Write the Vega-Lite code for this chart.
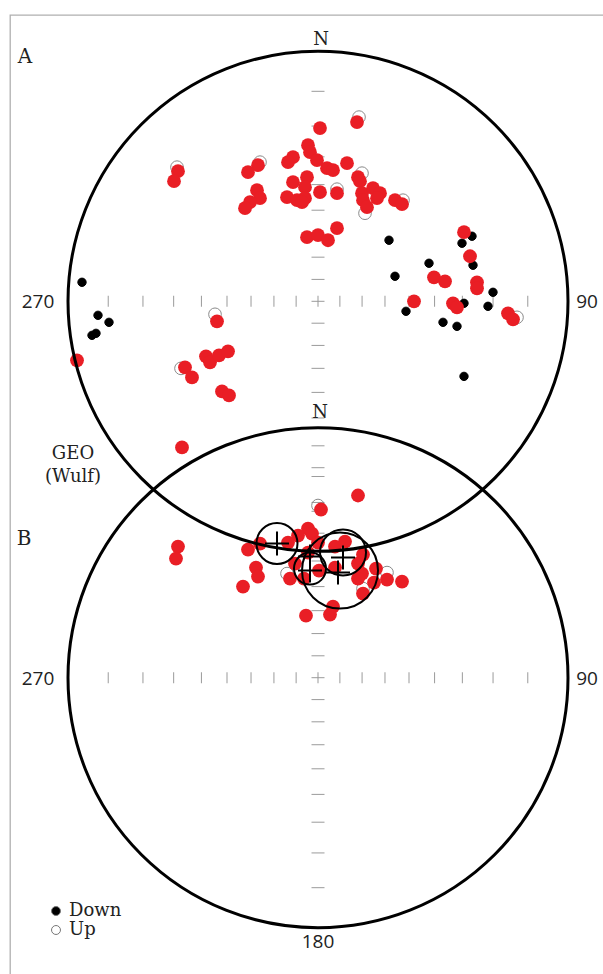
{
  "$schema": "https://vega.github.io/schema/vega-lite/v6.json",
  "width": 603,
  "height": 974,
  "autosize": {"type": "fit", "contains": "padding"},
  "padding": {"left": 10, "top": 15, "right": -2, "bottom": -2},
  "background": "white",
  "config": {"view": {"stroke": "#b0b0b0", "strokeWidth": 1.3}},
  "datasets": {
    "nets": [{"net": "A", "x": 0, "y": 0, "r": 100}, {"net": "B", "x": 0, "y": -150.4, "r": 100}],
    "ticks": [
      {"x": -83.91, "y": 0, "o": "v"}, {"x": -70.02, "y": 0, "o": "v"}, {"x": -57.74, "y": 0, "o": "v"}, {"x": -46.63, "y": 0, "o": "v"}, {"x": -36.4, "y": 0, "o": "v"}, {"x": -26.79, "y": 0, "o": "v"}, {"x": -17.63, "y": 0, "o": "v"}, {"x": -8.75, "y": 0, "o": "v"}, {"x": 0, "y": 0, "o": "v"}, {"x": 8.75, "y": 0, "o": "v"}, {"x": 17.63, "y": 0, "o": "v"}, {"x": 26.79, "y": 0, "o": "v"}, {"x": 36.4, "y": 0, "o": "v"}, {"x": 46.63, "y": 0, "o": "v"}, {"x": 57.74, "y": 0, "o": "v"}, {"x": 70.02, "y": 0, "o": "v"}, {"x": 83.91, "y": 0, "o": "v"},
      {"x": 0, "y": -83.91, "o": "h"}, {"x": 0, "y": -70.02, "o": "h"}, {"x": 0, "y": -57.74, "o": "h"}, {"x": 0, "y": -46.63, "o": "h"}, {"x": 0, "y": -36.4, "o": "h"}, {"x": 0, "y": -26.79, "o": "h"}, {"x": 0, "y": -17.63, "o": "h"}, {"x": 0, "y": -8.75, "o": "h"}, {"x": 0, "y": 0, "o": "h"}, {"x": 0, "y": 8.75, "o": "h"}, {"x": 0, "y": 17.63, "o": "h"}, {"x": 0, "y": 26.79, "o": "h"}, {"x": 0, "y": 36.4, "o": "h"}, {"x": 0, "y": 46.63, "o": "h"}, {"x": 0, "y": 57.74, "o": "h"}, {"x": 0, "y": 70.02, "o": "h"}, {"x": 0, "y": 83.91, "o": "h"},
      {"x": -83.91, "y": -150.4, "o": "v"}, {"x": -70.02, "y": -150.4, "o": "v"}, {"x": -57.74, "y": -150.4, "o": "v"}, {"x": -46.63, "y": -150.4, "o": "v"}, {"x": -36.4, "y": -150.4, "o": "v"}, {"x": -26.79, "y": -150.4, "o": "v"}, {"x": -17.63, "y": -150.4, "o": "v"}, {"x": -8.75, "y": -150.4, "o": "v"}, {"x": 0, "y": -150.4, "o": "v"}, {"x": 8.75, "y": -150.4, "o": "v"}, {"x": 17.63, "y": -150.4, "o": "v"}, {"x": 26.79, "y": -150.4, "o": "v"}, {"x": 36.4, "y": -150.4, "o": "v"}, {"x": 46.63, "y": -150.4, "o": "v"}, {"x": 57.74, "y": -150.4, "o": "v"}, {"x": 70.02, "y": -150.4, "o": "v"}, {"x": 83.91, "y": -150.4, "o": "v"},
      {"x": 0, "y": -234.31, "o": "h"}, {"x": 0, "y": -220.42, "o": "h"}, {"x": 0, "y": -208.14, "o": "h"}, {"x": 0, "y": -197.03, "o": "h"}, {"x": 0, "y": -186.8, "o": "h"}, {"x": 0, "y": -177.19, "o": "h"}, {"x": 0, "y": -168.03, "o": "h"}, {"x": 0, "y": -159.15, "o": "h"}, {"x": 0, "y": -150.4, "o": "h"}, {"x": 0, "y": -141.65, "o": "h"}, {"x": 0, "y": -132.77, "o": "h"}, {"x": 0, "y": -123.61, "o": "h"}, {"x": 0, "y": -114.0, "o": "h"}, {"x": 0, "y": -103.77, "o": "h"}, {"x": 0, "y": -92.66, "o": "h"}, {"x": 0, "y": -80.38, "o": "h"}, {"x": 0, "y": -66.49, "o": "h"}
    ],
    "down": [
      {"x": 28.4, "y": 24.4}, {"x": 61.6, "y": 26.0}, {"x": 57.6, "y": 23.2}, {"x": 62.0, "y": 14.4}, {"x": 44.4, "y": 15.2}, {"x": 30.8, "y": 10.0}, {"x": 70.0, "y": 3.6}, {"x": 35.2, "y": -4.0}, {"x": 58.4, "y": -0.8}, {"x": 68.0, "y": -2.0}, {"x": 50.0, "y": -8.4}, {"x": 55.6, "y": -10.0}, {"x": 58.4, "y": -30.0},
      {"x": -94.4, "y": 7.6}, {"x": -88.0, "y": -5.6}, {"x": -83.6, "y": -8.4}, {"x": -90.4, "y": -13.6}, {"x": -88.8, "y": -12.8}
    ],
    "up": [
      {"x": 16.4, "y": 73.6}, {"x": -23.2, "y": 55.6}, {"x": -56.4, "y": 53.6}, {"x": 17.6, "y": 51.2}, {"x": 7.6, "y": 44.8}, {"x": 18.8, "y": 35.2}, {"x": 34.0, "y": 40.4}, {"x": 79.6, "y": -6.4}, {"x": -41.2, "y": -5.2}, {"x": -54.8, "y": -26.8},
      {"x": 0, "y": -81.6}, {"x": -12.4, "y": -108.8}, {"x": 27.6, "y": -108.4}, {"x": 18.0, "y": -114.8}
    ],
    "red": [
      {"x": 15.6, "y": 71.6}, {"x": 0.8, "y": 69.2}, {"x": -4.0, "y": 62.4}, {"x": -3.2, "y": 59.6}, {"x": -0.4, "y": 56.4}, {"x": -10.0, "y": 57.6}, {"x": -12.0, "y": 55.6}, {"x": -24.0, "y": 54.4}, {"x": -28.0, "y": 51.6}, {"x": -56.0, "y": 52.0}, {"x": -57.6, "y": 48.0}, {"x": 3.6, "y": 53.2}, {"x": 6.0, "y": 52.4}, {"x": 11.6, "y": 55.2}, {"x": 16.0, "y": 49.6}, {"x": 16.8, "y": 48.0}, {"x": -24.4, "y": 44.4}, {"x": -23.2, "y": 41.2}, {"x": -27.2, "y": 39.6}, {"x": -29.2, "y": 37.2}, {"x": -10.0, "y": 47.6}, {"x": -4.4, "y": 49.6}, {"x": -5.2, "y": 45.6}, {"x": -12.4, "y": 41.6}, {"x": -8.4, "y": 40.4}, {"x": -5.2, "y": 41.2}, {"x": -6.4, "y": 39.6}, {"x": 0.8, "y": 43.6}, {"x": 7.6, "y": 43.2}, {"x": 17.6, "y": 43.2}, {"x": 18.0, "y": 40.4}, {"x": 22.0, "y": 45.2}, {"x": 24.8, "y": 43.2}, {"x": 19.6, "y": 37.6}, {"x": 23.6, "y": 41.2}, {"x": 30.8, "y": 40.4}, {"x": 33.6, "y": 38.8}, {"x": 7.6, "y": 29.2}, {"x": -4.4, "y": 25.6}, {"x": 0.0, "y": 26.4}, {"x": 4.0, "y": 24.4},
      {"x": 58.4, "y": 27.6}, {"x": 60.8, "y": 18.0}, {"x": 46.4, "y": 9.6}, {"x": 50.8, "y": 8.0}, {"x": 63.6, "y": 7.6}, {"x": 63.6, "y": 5.2}, {"x": 38.4, "y": 0.0}, {"x": 54.0, "y": -0.8}, {"x": 55.6, "y": -2.4}, {"x": 76.0, "y": -4.8}, {"x": 78.0, "y": -7.2},
      {"x": -96.4, "y": -23.6}, {"x": -40.4, "y": -8.0}, {"x": -44.8, "y": -22.0}, {"x": -43.2, "y": -24.4}, {"x": -39.6, "y": -21.6}, {"x": -36.0, "y": -20.0}, {"x": -53.2, "y": -26.4}, {"x": -50.4, "y": -30.4}, {"x": -38.4, "y": -36.0}, {"x": -35.6, "y": -37.6}, {"x": -54.4, "y": -58.4},
      {"x": 16.0, "y": -77.6}, {"x": 1.2, "y": -83.2}, {"x": -4.0, "y": -90.8}, {"x": -8.0, "y": -93.6}, {"x": -2.4, "y": -92.8}, {"x": 0.0, "y": -96.4}, {"x": -12.0, "y": -96.4}, {"x": -23.2, "y": -96.8}, {"x": -28.0, "y": -99.2}, {"x": -4.0, "y": -100.4}, {"x": -9.2, "y": -104.8}, {"x": 6.8, "y": -98.0}, {"x": 10.8, "y": -96.0}, {"x": 18.0, "y": -101.2}, {"x": 16.0, "y": -104.8}, {"x": 23.2, "y": -106.8}, {"x": -24.8, "y": -106.4}, {"x": -24.0, "y": -110.0}, {"x": -30.0, "y": -114.0}, {"x": -11.2, "y": -110.8}, {"x": -5.6, "y": -110.8}, {"x": 0.4, "y": -107.6}, {"x": 6.8, "y": -106.4}, {"x": 17.6, "y": -108.8}, {"x": 16.0, "y": -110.8}, {"x": 22.4, "y": -112.4}, {"x": 27.6, "y": -111.2}, {"x": 33.6, "y": -112.0}, {"x": 18.0, "y": -116.8}, {"x": 6.0, "y": -122.0}, {"x": 4.8, "y": -125.2}, {"x": -4.8, "y": -125.6}, {"x": -56.0, "y": -98.0}, {"x": -56.8, "y": -102.8}
    ],
    "a95": [
      {"x": -16.4, "y": -96.8, "r": 8.2}, {"x": -3.2, "y": -106.8, "r": 6.4}, {"x": 10.0, "y": -100.4, "r": 9.2}, {"x": 8.8, "y": -107.6, "r": 15.2}
    ],
    "means": [
      {"x": -16.4, "y": -96.8}, {"x": -3.2, "y": -102.0}, {"x": -3.2, "y": -107.6}, {"x": 10.0, "y": -102.4}, {"x": 8.0, "y": -108.4}
    ],
    "degrees": [
      {"x": -112, "y": -0.4, "t": "270"}, {"x": 107.6, "y": -0.4, "t": "90"}, {"x": -112, "y": -150.8, "t": "270"}, {"x": 107.6, "y": -150.8, "t": "90"}, {"x": 0, "y": -256, "t": "180"}
    ],
    "north": [
      {"x": 1.2, "y": 104.4, "t": "N"}, {"x": 0.8, "y": -44.8, "t": "N"}
    ],
    "panels": [
      {"x": -117.2, "y": 97.6, "t": "A"}, {"x": -117.6, "y": -94.8, "t": "B"}
    ],
    "caption": [
      {"x": -98, "y": -61.2, "t": "GEO"}, {"x": -98, "y": -70.4, "t": "(Wulf)"}
    ]
  },
  "encoding": {
    "x": {"field": "x", "type": "quantitative", "axis": null, "scale": {"domain": [-123.2, 114.8], "nice": false, "zero": false}},
    "y": {"field": "y", "type": "quantitative", "axis": null, "scale": {"domain": [-269.6, 114.4], "nice": false, "zero": false}}
  },
  "layer": [
    {
      "data": {"name": "ticks"},
      "transform": [{"filter": "datum.o == 'v'"}],
      "mark": {"type": "tick", "orient": "vertical", "size": 11, "thickness": 1, "color": "#9a9a9a", "opacity": 1}
    },
    {
      "data": {"name": "ticks"},
      "transform": [{"filter": "datum.o == 'h'"}],
      "mark": {"type": "tick", "orient": "horizontal", "size": 13, "thickness": 1, "color": "#9a9a9a", "opacity": 1}
    },
    {
      "data": {"name": "down"},
      "mark": {"type": "point", "shape": "circle", "filled": true, "size": 70, "stroke": "#000000", "strokeWidth": 1, "opacity": 1},
      "encoding": {
        "fill": {"datum": "Down", "type": "nominal", "scale": {"domain": ["Down", "Up"], "range": ["#000000", "rgba(255,255,255,0)"]},
          "legend": {"orient": "none", "legendX": 37, "legendY": 887, "title": null, "labelFont": "DejaVu Serif", "labelFontSize": 18, "labelColor": "#222222", "symbolSize": 80, "symbolStrokeWidth": 1, "symbolStrokeColor": "#777777", "symbolType": "circle", "rowPadding": 1, "labelOffset": 4}}
      }
    },
    {
      "data": {"name": "up"},
      "mark": {"type": "point", "shape": "circle", "filled": false, "size": 160, "stroke": "#8a8a8a", "strokeWidth": 1, "opacity": 1},
      "encoding": {
        "fill": {"datum": "Up", "type": "nominal"}
      }
    },
    {
      "data": {"name": "red"},
      "mark": {"type": "point", "shape": "circle", "filled": true, "size": 190, "color": "#e91e25", "opacity": 1}
    },
    {
      "data": {"name": "nets"},
      "mark": {"type": "point", "shape": "circle", "filled": false, "stroke": "#000000", "strokeWidth": 3, "opacity": 1},
      "encoding": {
        "size": {"field": "r", "type": "quantitative", "scale": {"type": "pow", "exponent": 2, "domain": [0, 100], "range": [0, 250000]}, "legend": null}
      }
    },
    {
      "data": {"name": "a95"},
      "mark": {"type": "point", "shape": "circle", "filled": false, "stroke": "#000000", "strokeWidth": 2, "opacity": 1},
      "encoding": {
        "size": {"field": "r", "type": "quantitative", "legend": null}
      }
    },
    {
      "data": {"name": "means"},
      "mark": {"type": "point", "shape": "M-1,0H1M0,-1V1", "filled": false, "size": 576, "stroke": "#000000", "strokeWidth": 2, "opacity": 1}
    },
    {
      "data": {"name": "degrees"},
      "mark": {"type": "text", "font": "Open Sans", "fontSize": 19, "color": "#222222", "align": "center", "baseline": "middle"},
      "encoding": {"text": {"field": "t"}}
    },
    {
      "data": {"name": "north"},
      "mark": {"type": "text", "font": "DejaVu Serif", "fontSize": 18, "color": "#222222", "align": "center", "baseline": "middle"},
      "encoding": {"text": {"field": "t"}}
    },
    {
      "data": {"name": "panels"},
      "mark": {"type": "text", "font": "DejaVu Serif", "fontSize": 20, "color": "#222222", "align": "center", "baseline": "middle"},
      "encoding": {"text": {"field": "t"}}
    },
    {
      "data": {"name": "caption"},
      "mark": {"type": "text", "font": "DejaVu Serif", "fontSize": 18, "color": "#222222", "align": "center", "baseline": "middle"},
      "encoding": {"text": {"field": "t"}}
    }
  ]
}
